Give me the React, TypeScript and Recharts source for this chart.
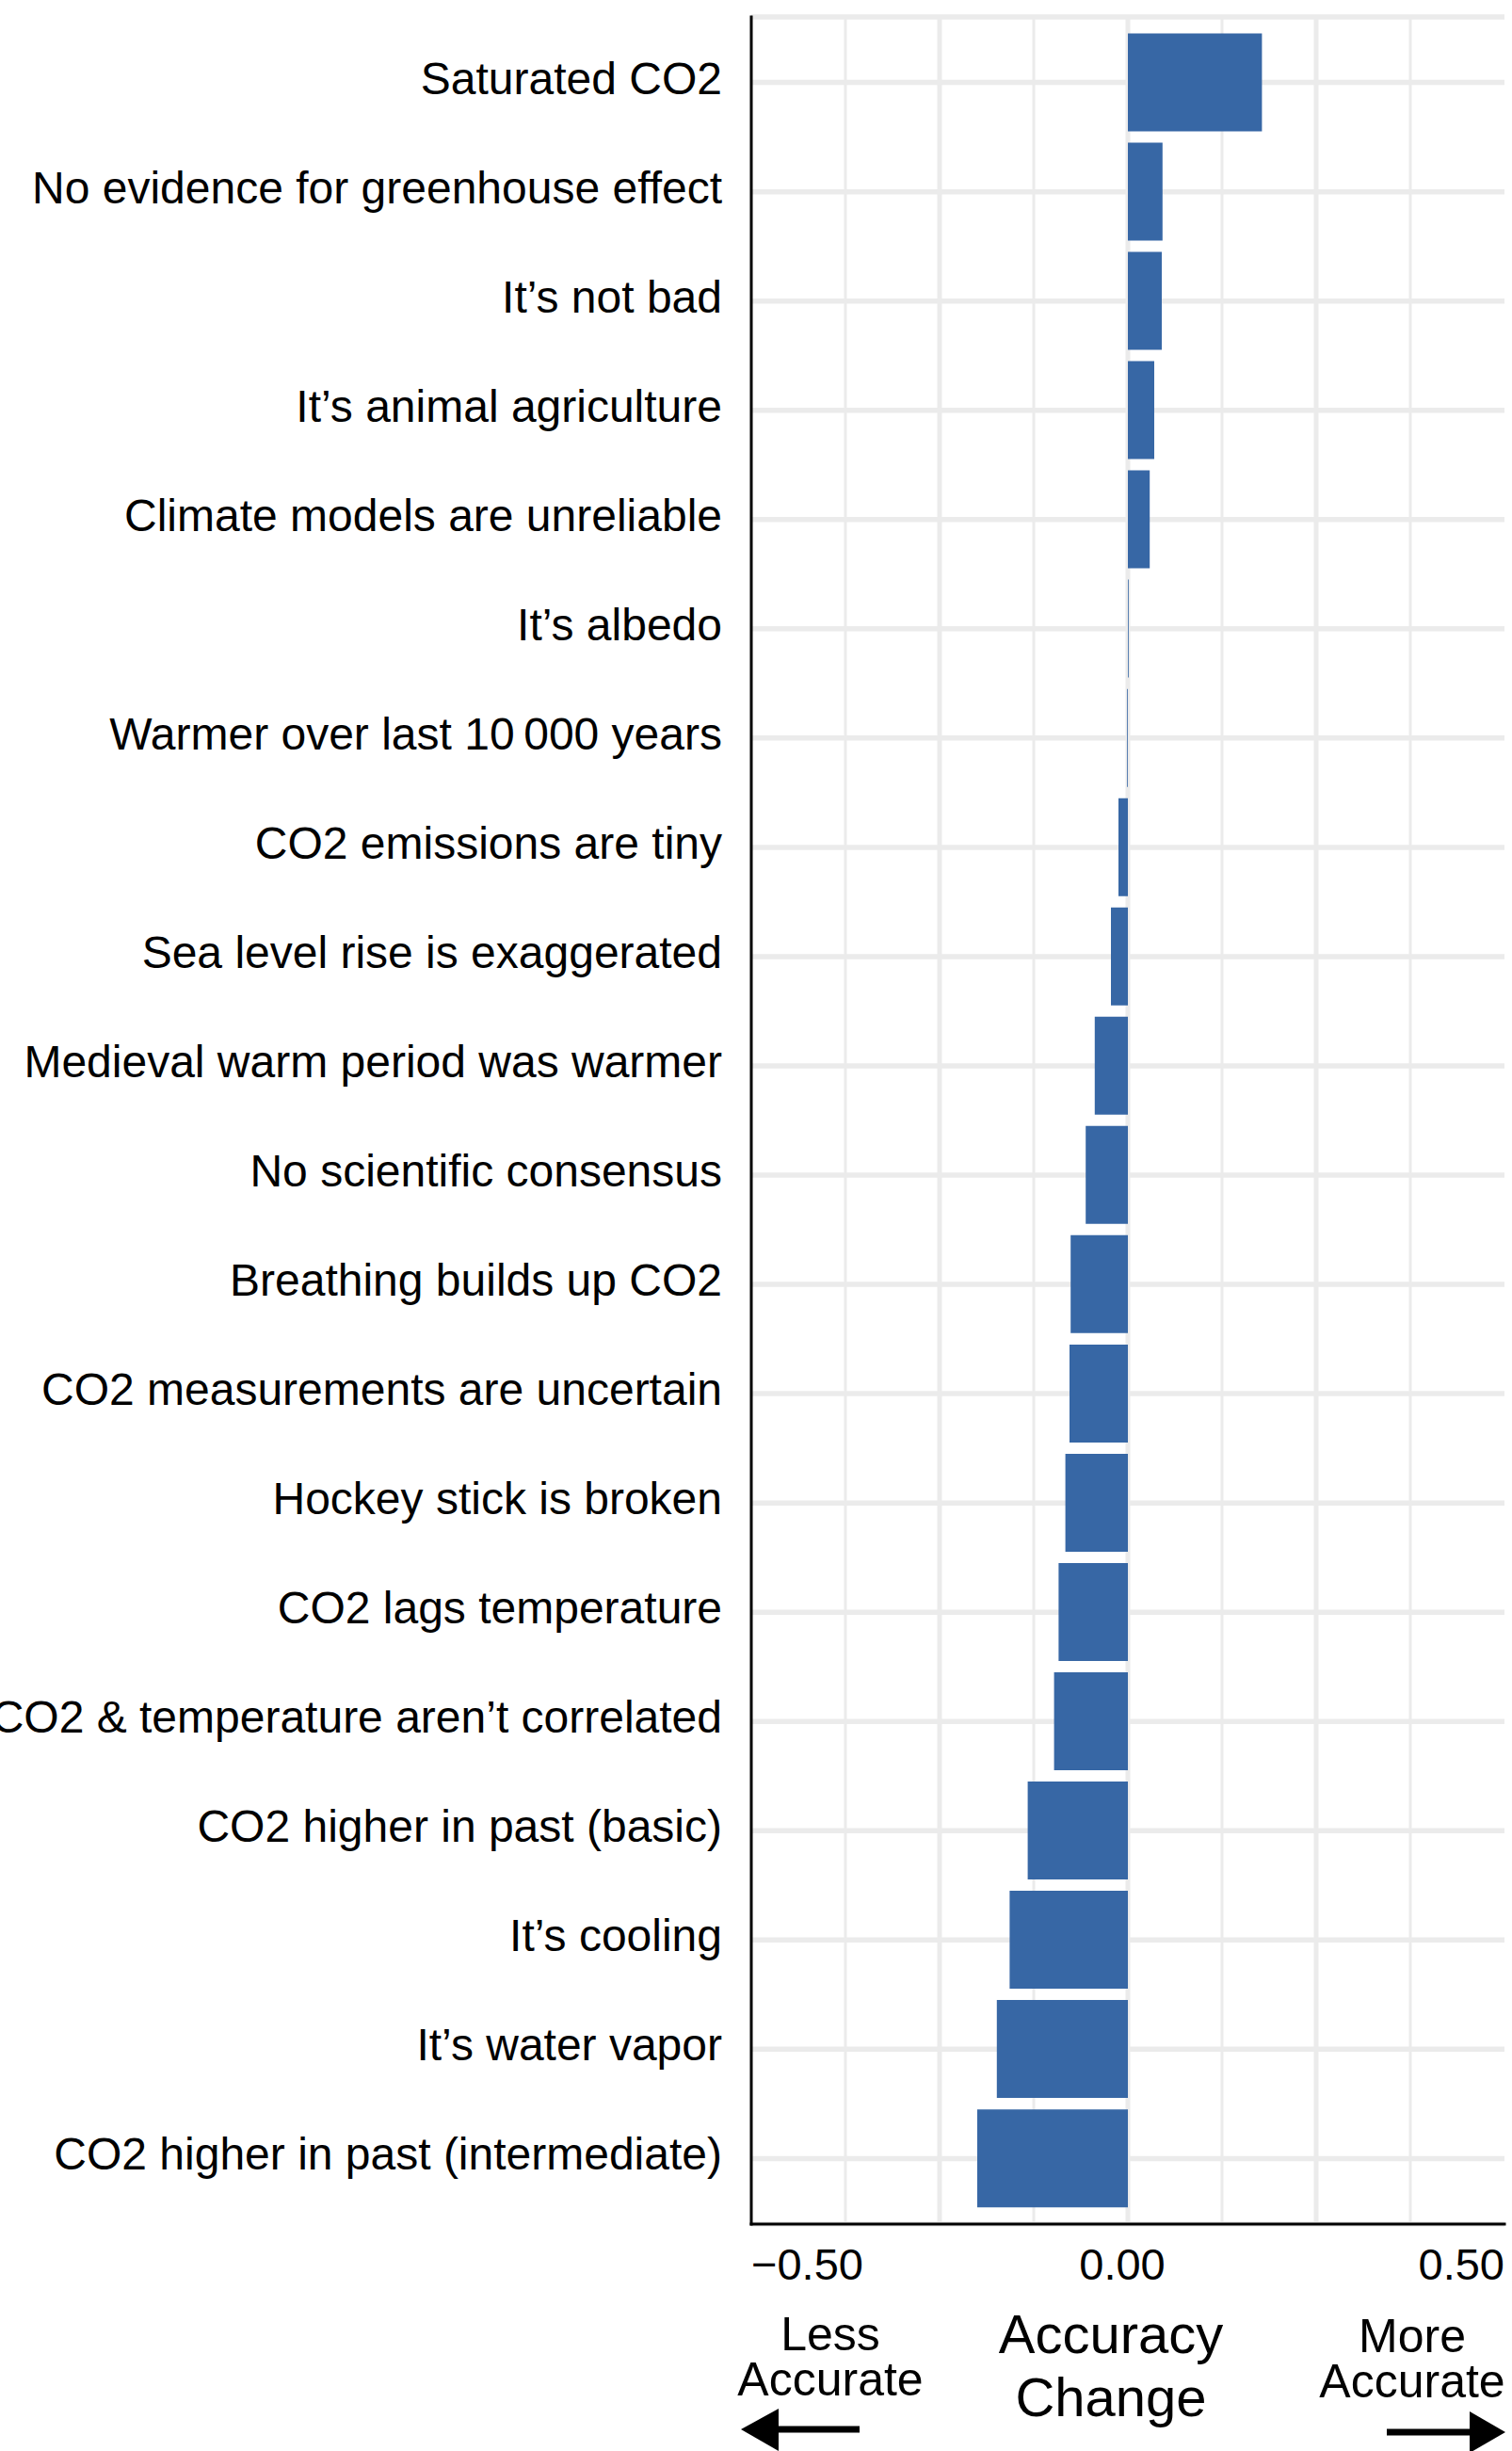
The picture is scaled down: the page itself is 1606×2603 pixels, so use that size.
import React from 'react'
import { BarChart, Bar, XAxis, YAxis, CartesianGrid } from 'recharts'

// myths, top to bottom as drawn
const categories = [
    'Saturated CO2',
    'No evidence for greenhouse effect',
    'It\u2019s not bad',
    'It\u2019s animal agriculture',
    'Climate models are unreliable',
    'It\u2019s albedo',
    'Warmer over last 10\u2009000 years',
    'CO2 emissions are tiny',
    'Sea level rise is exaggerated',
    'Medieval warm period was warmer',
    'No scientific consensus',
    'Breathing builds up CO2',
    'CO2 measurements are uncertain',
    'Hockey stick is broken',
    'CO2 lags temperature',
    'CO2 & temperature aren\u2019t correlated',
    'CO2 higher in past (basic)',
    'It\u2019s cooling',
    'It\u2019s water vapor',
    'CO2 higher in past (intermediate)',
]

const accuracyChange = [
    0.178, 0.046, 0.045, 0.035, 0.029, 0.001, -0.001, -0.0125, -0.0225, -0.044,
    -0.056, -0.076, -0.0775, -0.083, -0.092, -0.098, -0.133, -0.157, -0.174, -0.2,
]

const labelTicks = [-0.5, 0, 0.5]
const majorTicks = [-0.25, 0, 0.25]
const minorTicks = [-0.375, -0.125, 0.125, 0.375]
const xDomain = [-0.5, 0.5]

const data = categories.map((name, i) => ({ name, change: accuracyChange[i] }))

const FONT = '"Liberation Sans", Arial, Helvetica, sans-serif'
const GRID = '#EBEBEB'
const BAR = '#3767A5'
const border = { stroke: '#000', strokeWidth: 3, strokeLinecap: 'square' as const }

const formatTick = (v: number) => (v < 0 ? '\u2212' : '') + Math.abs(v).toFixed(2)

function CategoryTick(props: any) {
    const { x, y, payload } = props
    return (
        <text x={x} y={y} dy={12} textAnchor="end" fontSize={48} fontFamily={FONT} fill="#000">
            {payload.value}
        </text>
    )
}

function ValueTick(props: any) {
    const { x, y, payload } = props
    const v = payload.value
    const anchor = v < 0 ? 'start' : v > 0 ? 'end' : 'middle'
    return (
        <text x={x} y={y} dx={v === 0 ? -6 : 0} dy={59} textAnchor={anchor} fontSize={47} fontFamily={FONT} fill="#000">
            {formatTick(v)}
        </text>
    )
}

export default function App() {
    return (
        <div style={{ position: 'absolute', left: 0, top: 0, width: 1606, height: 2603, background: '#fff' }}>
            <BarChart
                width={1606}
                height={2603}
                data={data}
                layout="vertical"
                margin={{ top: 18, right: 8, left: 0, bottom: 181 }}
                barCategoryGap="5%"
            >
                {/* minor then major grid, horizontal lines at each category */}
                <CartesianGrid xAxisId="labels" yAxisId="cat" horizontal={false} verticalValues={minorTicks} stroke={GRID} strokeWidth={3} />
                <CartesianGrid xAxisId="labels" yAxisId="cat" horizontal={false} verticalValues={majorTicks} stroke={GRID} strokeWidth={5} />
                <CartesianGrid xAxisId="labels" yAxisId="cat" vertical={false} stroke={GRID} strokeWidth={5.5} />

                <XAxis
                    xAxisId="labels"
                    type="number"
                    domain={xDomain}
                    ticks={labelTicks}
                    height={60}
                    tickSize={0}
                    tickMargin={0}
                    tickLine={false}
                    axisLine={border}
                    tick={<ValueTick />}
                    interval={0}
                />
                <XAxis xAxisId="top" orientation="top" type="number" domain={xDomain} height={0} tick={false} tickLine={false} axisLine={border} />

                <YAxis
                    yAxisId="cat"
                    type="category"
                    dataKey="name"
                    width={798}
                    padding={{ top: 11.6, bottom: 11.6 }}
                    tickSize={0}
                    tickMargin={31}
                    tickLine={false}
                    axisLine={border}
                    tick={<CategoryTick />}
                    interval={0}
                />
                <YAxis yAxisId="right" orientation="right" type="category" dataKey="name" width={0} tick={false} tickLine={false} axisLine={border} />

                <Bar xAxisId="labels" yAxisId="cat" dataKey="change" fill={BAR} isAnimationActive={false} />
            </BarChart>

            <svg width={1606} height={2603} style={{ position: 'absolute', left: 0, top: 0, pointerEvents: 'none' }} fontFamily={FONT}>
                <text x={882} y={2496} textAnchor="middle" fontSize={50}>Less</text>
                <text x={882} y={2544} textAnchor="middle" fontSize={50}>Accurate</text>
                <text x={1180} y={2499} textAnchor="middle" fontSize={58}>Accuracy</text>
                <text x={1180} y={2566} textAnchor="middle" fontSize={58}>Change</text>
                <text x={1500} y={2498} textAnchor="middle" fontSize={50}>More</text>
                <text x={1500} y={2546} textAnchor="middle" fontSize={50}>Accurate</text>
                {/* arrows */}
                <line x1={824} y1={2580} x2={913} y2={2580} stroke="#000" strokeWidth={7} />
                <polygon points="787,2580 827,2558 827,2603" fill="#000" />
                <line x1={1473} y1={2583} x2={1564} y2={2583} stroke="#000" strokeWidth={7} />
                <polygon points="1599,2583 1561,2561 1561,2605" fill="#000" />
            </svg>
        </div>
    )
}
